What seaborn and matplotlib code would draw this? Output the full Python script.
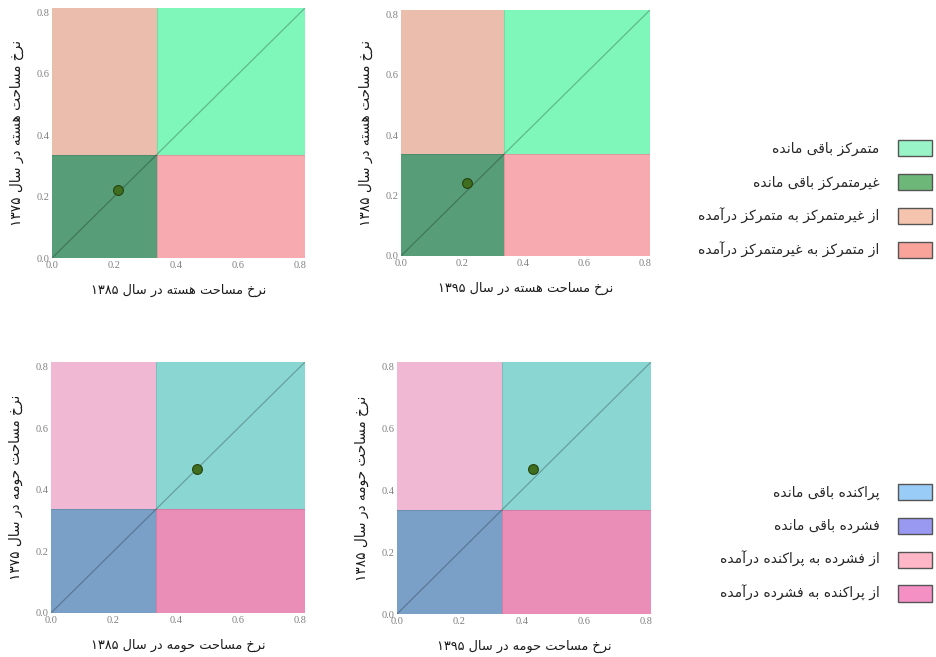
import re
import pandas as pd
import matplotlib
matplotlib.use("Agg")
import matplotlib.pyplot as plt
from matplotlib.patches import Patch
import seaborn as sns

# ---- values ----
AXIS_MAX = 0.815
TICKS = [0.0, 0.2, 0.4, 0.6, 0.8]
THRESHOLD = 0.337

point_x = [0.214, 0.215, 0.467, 0.438]
point_y = [0.222, 0.243, 0.468, 0.468]

x_titles = [
    "نرخ مساحت هسته در سال ۱۳۸۵",
    "نرخ مساحت هسته در سال ۱۳۹۵",
    "نرخ مساحت حومه در سال ۱۳۸۵",
    "نرخ مساحت حومه در سال ۱۳۹۵",
]
y_titles = [
    "نرخ مساحت هسته در سال ۱۳۷۵",
    "نرخ مساحت هسته در سال ۱۳۸۵",
    "نرخ مساحت حومه در سال ۱۳۷۵",
    "نرخ مساحت حومه در سال ۱۳۸۵",
]

core_legend = [
    "متمرکز باقی مانده",
    "غیرمتمرکز باقی مانده",
    "از غیرمتمرکز به متمرکز درآمده",
    "از متمرکز به غیرمتمرکز درآمده",
]
sub_legend = [
    "پراکنده باقی مانده",
    "فشرده باقی مانده",
    "از فشرده به پراکنده درآمده",
    "از پراکنده به فشرده درآمده",
]

# quadrant fills: upper-right, lower-left, upper-left, lower-right
core_fill = ["#80f7ba", "#579e78", "#ebbdad", "#f7aab0"]
sub_fill = ["#8ad6d2", "#7aa0c8", "#f0b8d3", "#ea8eb8"]
core_patch = ["#99f5c8", "#6db878", "#f5c4ae", "#f9a39a"]
sub_patch = ["#99ccf7", "#9999f2", "#ffb6c6", "#f590c5"]


# ---- minimal Persian shaping (matplotlib does no RTL / joining) ----
def _f(start, n):
    return "".join(chr(start + k) for k in range(n))


FORMS = {
    "ا": _f(0xFE8D, 2), "آ": _f(0xFE81, 2), "ب": _f(0xFE8F, 4), "پ": _f(0xFB56, 4),
    "ت": _f(0xFE95, 4), "ث": _f(0xFE99, 4), "ج": _f(0xFE9D, 4), "چ": _f(0xFB7A, 4),
    "ح": _f(0xFEA1, 4), "خ": _f(0xFEA5, 4), "د": _f(0xFEA9, 2), "ذ": _f(0xFEAB, 2),
    "ر": _f(0xFEAD, 2), "ز": _f(0xFEAF, 2), "ژ": _f(0xFB8A, 2), "س": _f(0xFEB1, 4),
    "ش": _f(0xFEB5, 4), "ص": _f(0xFEB9, 4), "ض": _f(0xFEBD, 4), "ط": _f(0xFEC1, 4),
    "ظ": _f(0xFEC5, 4), "ع": _f(0xFEC9, 4), "غ": _f(0xFECD, 4), "ف": _f(0xFED1, 4),
    "ق": _f(0xFED5, 4), "ک": _f(0xFB8E, 4), "گ": _f(0xFB92, 4), "ل": _f(0xFEDD, 4),
    "م": _f(0xFEE1, 4), "ن": _f(0xFEE5, 4), "و": _f(0xFEED, 2), "ه": _f(0xFEE9, 4),
    "ی": _f(0xFBFC, 4),
}


def fa(text):
    out = []
    for i, ch in enumerate(text):
        forms = FORMS.get(ch)
        if forms is None:
            out.append(ch)
            continue
        prev = text[i - 1] if i > 0 else ""
        nxt = text[i + 1] if i + 1 < len(text) else ""
        join_prev = prev in FORMS and len(FORMS[prev]) == 4
        join_next = len(forms) == 4 and nxt in FORMS
        if join_prev and join_next:
            out.append(forms[3])
        elif join_prev:
            out.append(forms[1])
        elif join_next:
            out.append(forms[2])
        else:
            out.append(forms[0])
    visual = "".join(out)[::-1]
    return re.sub(r"[0-9\u06f0-\u06f9]+", lambda m: m.group(0)[::-1], visual)


sns.set_theme(style="white")
plt.rcParams["font.family"] = ["DejaVu Sans"]

fig = plt.figure(figsize=(9.36, 6.57), dpi=100)
boxes = [
    [0.0556, 0.6073, 0.2703, 0.3805],
    [0.4284, 0.6104, 0.2660, 0.3744],
    [0.0545, 0.0670, 0.2714, 0.3820],
    [0.4241, 0.0654, 0.2714, 0.3836],
]

df = pd.DataFrame({"x": point_x, "y": point_y})

for i, box in enumerate(boxes):
    ax = fig.add_axes(box)
    fills = core_fill if i < 2 else sub_fill
    t, m = THRESHOLD, AXIS_MAX
    ax.fill_between([t, m], t, m, color=fills[0], lw=0, zorder=0)
    ax.fill_between([0, t], 0, t, color=fills[1], lw=0, zorder=0)
    ax.fill_between([0, t], t, m, color=fills[2], lw=0, zorder=0)
    ax.fill_between([t, m], 0, t, color=fills[3], lw=0, zorder=0)
    ax.axvline(t, color="#000000", alpha=0.1, lw=0.8, zorder=1)
    ax.axhline(t, color="#000000", alpha=0.1, lw=0.8, zorder=1)
    ax.axline((0, 0), slope=1, color="#000000", alpha=0.25, lw=0.9, zorder=2)

    sns.scatterplot(data=df.iloc[[i]], x="x", y="y", ax=ax, s=50,
                    color="#3f6e1e", edgecolor="#26420f", linewidth=0.8, zorder=3)

    ax.set_xlim(0, AXIS_MAX)
    ax.set_ylim(0, AXIS_MAX)
    ax.set_xticks(TICKS)
    ax.set_yticks(TICKS)
    ax.set_xticklabels([f"{v:.1f}" for v in TICKS], family="Liberation Serif",
                       fontsize=7.5, color="#808080")
    ax.set_yticklabels([f"{v:.1f}" for v in TICKS], family="Liberation Serif",
                       fontsize=7.5, color="#808080")
    ax.tick_params(length=0, pad=2)
    ax.set_xlabel(fa(x_titles[i]), fontsize=9.3, color="#1a1a1a", labelpad=10)
    ax.set_ylabel(fa(y_titles[i]), fontsize=9.8, color="#1a1a1a", labelpad=9)
    sns.despine(ax=ax, left=True, bottom=True)

for labels, colors, ycenter in [(core_legend, core_patch, 0.697),
                                (sub_legend, sub_patch, 0.174)]:
    handles = [Patch(facecolor=c, edgecolor="#555555", linewidth=1.0) for c in colors]
    fig.legend(handles, [fa(s) for s in labels], loc="center right",
               bbox_to_anchor=(0.996, ycenter), markerfirst=False, frameon=False,
               fontsize=10, handlelength=2.5, handleheight=1.4,
               labelspacing=1.27, handletextpad=1.3, borderpad=0, borderaxespad=0)

fig.savefig("out.png", dpi=100)
